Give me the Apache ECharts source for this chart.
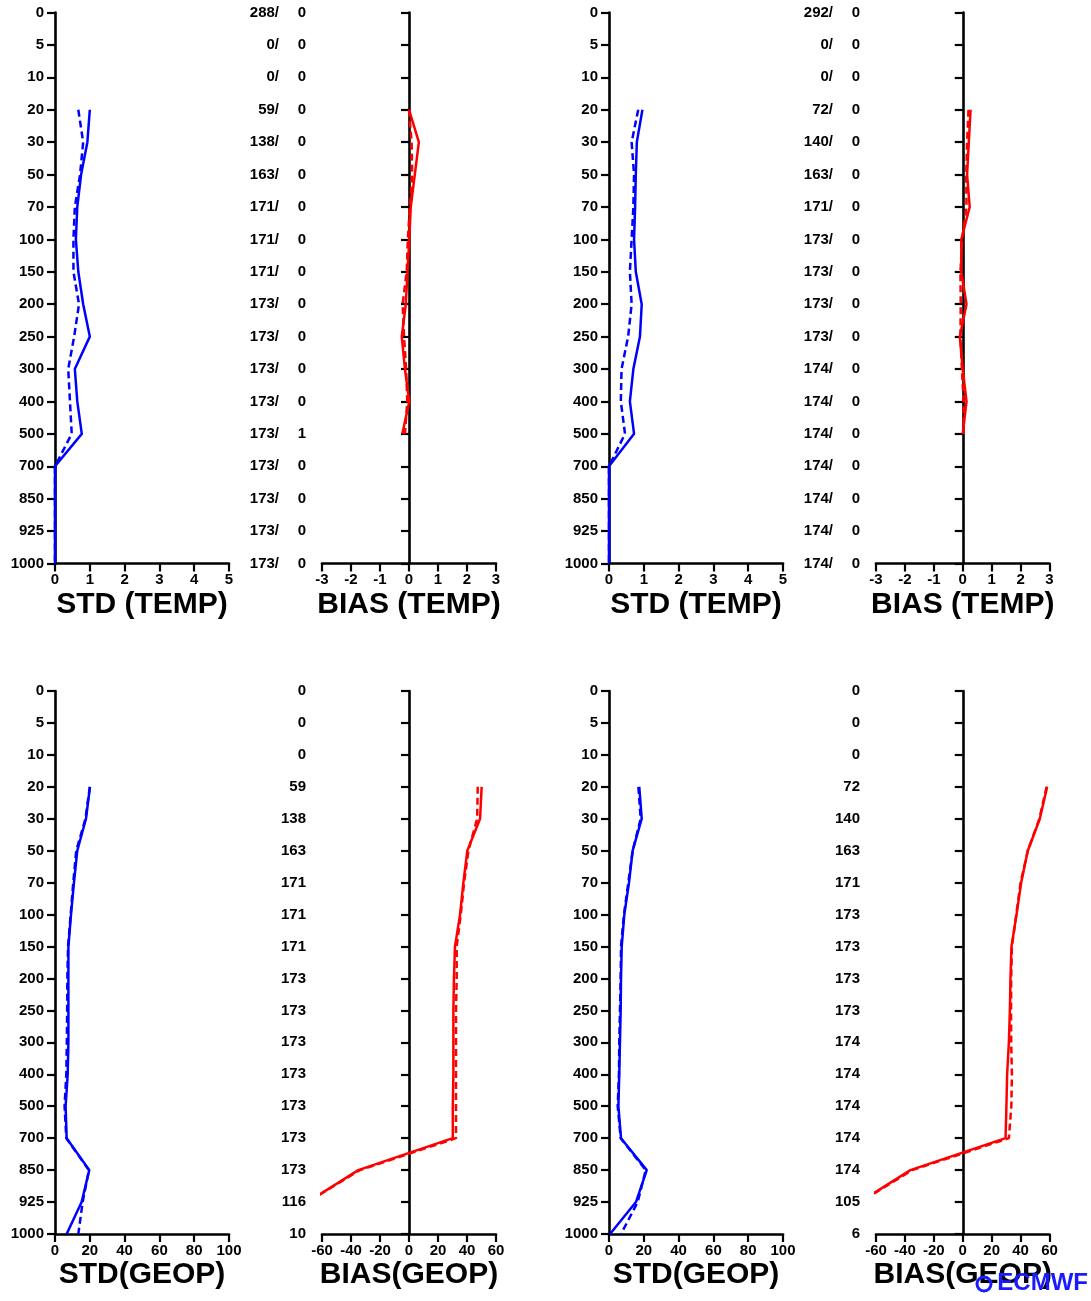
<!DOCTYPE html>
<html><head><meta charset="utf-8">
<script src="https://cdn.jsdelivr.net/npm/echarts@6/dist/echarts.min.js"></script>
<style>html,body{margin:0;padding:0;background:#fff}#c{width:1091px;height:1301px}</style>
</head><body><div id="c"></div>
<script>
// ---------- data ----------
const levels = ['0','5','10','20','30','50','70','100','150','200','250','300','400','500','700','850','925','1000'];

const stdTempSolidA = [null,null,null,1.0,0.93,0.75,0.64,0.6,0.67,0.81,1.0,0.57,0.64,0.77,0,0,0,0];
const stdTempDashA  = [null,null,null,0.67,0.81,0.72,0.57,0.53,0.53,0.69,0.55,0.38,0.43,0.48,0,0,0,0];
const biasTempSolidA = [null,null,null,0.0,0.34,0.2,0.06,0.01,-0.05,-0.11,-0.25,-0.14,0.01,-0.23,null,null,null,null];
const biasTempDashA  = [null,null,null,0.0,0.09,0.11,0.03,-0.04,-0.08,-0.22,-0.17,-0.1,-0.06,-0.14,null,null,null,null];

const stdTempSolidB = [null,null,null,0.96,0.8,0.77,0.75,0.72,0.77,0.94,0.89,0.7,0.6,0.72,0,0,0,0];
const stdTempDashB  = [null,null,null,0.84,0.65,0.72,0.7,0.65,0.6,0.65,0.55,0.36,0.34,0.46,0,0,0,0];
const biasTempSolidB = [null,null,null,0.27,0.21,0.15,0.24,-0.05,-0.05,0.13,-0.1,0.0,0.13,0.0,null,null,null,null];
const biasTempDashB  = [null,null,null,0.2,0.15,0.12,0.13,-0.02,-0.08,-0.07,-0.08,-0.03,0.03,0.03,null,null,null,null];

const stdGeopSolidA = [null,null,null,20.1,17.8,12.8,10.9,9.2,7.7,7.7,7.7,7.7,7.3,6.1,6.7,19.7,15.3,6.7];
const stdGeopDashA  = [null,null,null,20,17.5,12.2,10.5,9,7.5,7.1,7,6.8,6.5,5.5,6.5,19.5,15.9,13.4];
const biasGeopSolidA = [null,null,null,50.1,49,40.2,37.5,35.2,31.7,31,30.6,30.6,30.6,30.2,30.2,-35,-70,-80];
const biasGeopDashA  = [null,null,null,47.4,47,41,38,35.7,32.9,32.9,32.4,32.4,32.4,32.4,32.4,-34,-70,-80];

const stdGeopSolidB = [null,null,null,17.4,18.8,13.6,11.5,8.8,7.3,6.9,6.7,6.3,5.9,5.4,6.9,21.7,15.5,0.6];
const stdGeopDashB  = [null,null,null,16.9,18.2,13.6,11.1,8.6,6.9,6.7,6.3,5.9,5.7,5.0,6.7,21.1,16.5,6.9];
const biasGeopSolidB = [null,null,null,58.4,53.3,45,40.4,37.2,33.7,33,32.6,31.9,30.7,30.2,29.6,-36.2,-71.5,-80];
const biasGeopDashB  = [null,null,null,58,53,45,40,37,34,33.5,33.4,33.5,34,33.6,31.9,-35,-71,-80];

const countTempA = [288,0,0,59,138,163,171,171,171,173,173,173,173,173,173,173,173,173];
const rejTempA   = [0,0,0,0,0,0,0,0,0,0,0,0,0,1,0,0,0,0];
const countTempB = [292,0,0,72,140,163,171,173,173,173,173,174,174,174,174,174,174,174];
const rejTempB   = [0,0,0,0,0,0,0,0,0,0,0,0,0,0,0,0,0,0];
const countGeopA = [0,0,0,59,138,163,171,171,171,173,173,173,173,173,173,173,116,10];
const countGeopB = [0,0,0,72,140,163,171,173,173,173,173,174,174,174,174,174,105,6];

// ---------- chart ----------
const FONT = '"Liberation Sans", Arial, Helvetica, sans-serif';
const BLUE = '#0000ff', RED = '#ff0000';
const rows = [{top: 12.5, height: 551}, {top: 691, height: 543}];

const panels = [
  {row:0, left:55,  width:174, min:0,   max:5,   interval:1,  title:'STD (TEMP)',  solid:stdTempSolidA,  dash:stdTempDashA,  color:BLUE},
  {row:0, left:322, width:174, min:-3,  max:3,   interval:1,  title:'BIAS (TEMP)', solid:biasTempSolidA, dash:biasTempDashA, color:RED,
    fmt:(i)=>'{a|'+countTempA[i]+'/}{b|'+rejTempA[i]+'}'},
  {row:0, left:609, width:174, min:0,   max:5,   interval:1,  title:'STD (TEMP)',  solid:stdTempSolidB,  dash:stdTempDashB,  color:BLUE},
  {row:0, left:876, width:173.5, min:-3, max:3,  interval:1,  title:'BIAS (TEMP)', solid:biasTempSolidB, dash:biasTempDashB, color:RED,
    fmt:(i)=>'{a|'+countTempB[i]+'/}{b|'+rejTempB[i]+'}'},
  {row:1, left:55,  width:174, min:0,   max:100, interval:20, title:'STD(GEOP)',   solid:stdGeopSolidA,  dash:stdGeopDashA,  color:BLUE},
  {row:1, left:322, width:174, min:-60, max:60,  interval:20, title:'BIAS(GEOP)',  solid:biasGeopSolidA, dash:biasGeopDashA, color:RED,
    fmt:(i)=>'{b|'+countGeopA[i]+'}'},
  {row:1, left:609, width:174, min:0,   max:100, interval:20, title:'STD(GEOP)',   solid:stdGeopSolidB,  dash:stdGeopDashB,  color:BLUE},
  {row:1, left:876, width:173.5, min:-60, max:60, interval:20, title:'BIAS(GEOP)', solid:biasGeopSolidB, dash:biasGeopDashB, color:RED,
    fmt:(i)=>'{b|'+countGeopB[i]+'}'}
];

const lineAxis = {color:'#000', width:2.6};
const tickStyle = {color:'#000', width:2.2};
const labelBase = {fontSize:15, fontWeight:'bold', color:'#000', fontFamily:FONT};

const grid = [], xAxis = [], yAxis = [], series = [];
function toData(arr){ return levels.map((l,i)=>[arr[i], l]).filter(d=>d[0]!=null); }

panels.forEach((p,k)=>{
  const r = rows[p.row];
  grid.push({left:p.left, top:r.top, width:p.width, height:r.height, containLabel:false});
  xAxis.push({
    gridIndex:k, type:'value', min:p.min, max:p.max, interval:p.interval,
    axisLine:{show:true, onZero:false, lineStyle:lineAxis},
    axisTick:{show:true, length:8, lineStyle:tickStyle},
    axisLabel:Object.assign({margin:9}, labelBase),
    splitLine:{show:false},
    name:p.title, nameLocation:'middle', nameGap:41,
    nameTextStyle:{fontSize:30, fontWeight:'bold', color:'#000', fontFamily:FONT, verticalAlign:'middle'}
  });
  let yIdx;
  if (!p.fmt) {
    yIdx = yAxis.length;
    yAxis.push({
      gridIndex:k, type:'category', data:levels, inverse:true, boundaryGap:false, position:'left',
      axisLine:{show:true, onZero:false, lineStyle:lineAxis},
      axisTick:{show:true, length:8, lineStyle:tickStyle, interval:0},
      axisLabel:Object.assign({margin:11, interval:0}, labelBase),
      splitLine:{show:false}
    });
  } else {
    yIdx = yAxis.length;
    const rb = Object.assign({}, labelBase);
    yAxis.push({
      gridIndex:k, type:'category', data:levels, inverse:true, boundaryGap:false, position:'left',
      axisLine:{show:false, onZero:false},
      axisTick:{show:false},
      axisLabel:Object.assign({margin:16, interval:0, formatter:(v,i)=>p.fmt(i),
        rich:{a:Object.assign({width:40, align:'right'}, rb), b:Object.assign({width:27, align:'right'}, rb)}}, labelBase),
      splitLine:{show:false}
    });
    yAxis.push({
      gridIndex:k, type:'category', data:levels, inverse:true, boundaryGap:false, position:'left',
      axisLine:{show:true, onZero:true, lineStyle:lineAxis},
      axisTick:{show:true, length:8, lineStyle:tickStyle, interval:0},
      axisLabel:{show:false},
      splitLine:{show:false}
    });
  }
  series.push({
    type:'line', xAxisIndex:k, yAxisIndex:yIdx, data:toData(p.solid), symbol:'none', clip:true, z:3,
    lineStyle:{color:p.color, width:2.5, type:'solid'}, itemStyle:{color:p.color}
  });
  series.push({
    type:'line', xAxisIndex:k, yAxisIndex:yIdx, data:toData(p.dash), symbol:'none', clip:true, z:3,
    lineStyle:{color:p.color, width:2.5, type:[7,4]}, itemStyle:{color:p.color}
  });
});

const chart = echarts.init(document.getElementById('c'));
chart.setOption({
  animation:false,
  backgroundColor:'#fff',
  grid, xAxis, yAxis, series,
  graphic:[
    {type:'circle', shape:{cx:984, cy:1284, r:7}, style:{fill:'none', stroke:'#1a1aff', lineWidth:3}, z:100},
    {type:'text', right:3, top:1271, z:100,
      style:{text:'ECMWF', fill:'#1a1aff', font:'bold 24px ' + FONT}}
  ]
});
</script></body></html>
